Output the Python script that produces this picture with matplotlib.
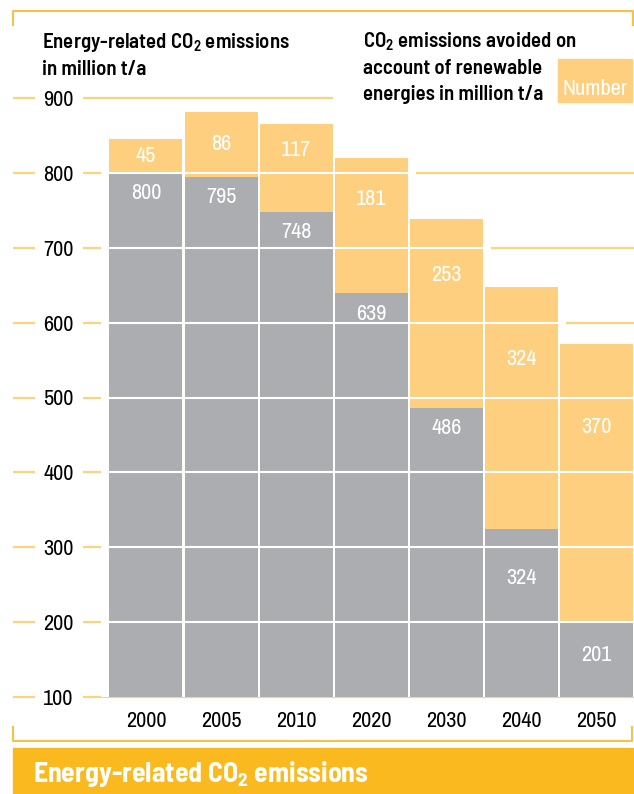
import numpy as np
import matplotlib.pyplot as plt
from matplotlib.patches import Rectangle
from matplotlib.lines import Line2D

# chart data
years = ['2000', '2005', '2010', '2020', '2030', '2040', '2050']
emissions = [800, 795, 748, 639, 486, 324, 201]      # energy-related CO2, million t/a
avoided = [45, 86, 117, 181, 253, 324, 370]          # avoided by renewables, million t/a
levels = [100, 200, 300, 400, 500, 600, 700, 800, 900]

grey = '#abadb1'
light_orange = '#fdcf7e'
grid_orange = '#fcd47f'
frame_orange = '#f8c244'
banner_orange = '#f9b91f'

num_font = ['Archivo Narrow', 'PT Sans Narrow', 'Liberation Sans', 'DejaVu Sans']
head_font = ['Barlow Semi Condensed', 'Roboto Condensed', 'DejaVu Sans']
plt.rcParams['font.family'] = num_font
plt.rcParams['mathtext.fontset'] = 'custom'
plt.rcParams['mathtext.rm'] = 'Barlow Semi Condensed:semibold'
plt.rcParams['mathtext.bf'] = 'Barlow Semi Condensed:bold'

W, H = 634, 794
fig = plt.figure(figsize=(W / 100, H / 100), dpi=100)


def fx(px):
    return px / W


def fy(py):
    return 1 - py / H


ax = fig.add_axes([fx(108.4), fy(697), fx(634) - fx(108.4), fy(98) - fy(697)])
ax.set_xlim(-0.5, 6.5)
ax.set_ylim(100, 900)
for s in ax.spines.values():
    s.set_visible(False)

x = np.arange(len(years))
bottom = 100
tops = [e + a for e, a in zip(emissions, avoided)]
bw = 0.972

# orange gridlines (right part) and short left dashes
yt = ax.get_yaxis_transform()
for lv in levels:
    right_end = 0.427 if lv == levels[-1] else 1.004
    ax.plot([-0.0483, right_end], [lv, lv], transform=yt, color=grid_orange, lw=1.6,
            clip_on=False, zorder=1, solid_capstyle='butt')
    ax.plot([-0.1815, -0.1397], [lv, lv], transform=yt, color=grid_orange, lw=1.6,
            clip_on=False, zorder=1, solid_capstyle='butt')

# white halo so gridlines stop short of the bars
ax.bar(x, np.array(tops) - bottom, bottom=bottom, width=1.19, color='white', zorder=2, clip_on=False)

ax.bar(x, np.array(emissions) - bottom, bottom=bottom, width=bw, color=grey, zorder=3)
ax.bar(x, avoided, bottom=emissions, width=bw, color=light_orange, zorder=3)

# white gridlines across the bars
for i, t in enumerate(tops):
    inside = [lv for lv in levels if bottom < lv < t]
    ax.hlines(inside, i - 0.5, i + 0.5, color='white', lw=1.5, zorder=4)

# value labels
for i, (e, a) in enumerate(zip(emissions, avoided)):
    h = e - bottom
    if h > 300:
        gy = e - 27
    elif h > 150:
        gy = e - 0.29 * h
    else:
        gy = bottom + 0.55 * h
    ax.text(i, gy, str(e), ha='center', va='center', color='white', fontsize=16, zorder=5)
    t = e + a
    oy = t - a / 2 if a < 100 else t - 0.3 * a
    ax.text(i, oy, str(a), ha='center', va='center', color='white', fontsize=16, zorder=5)

ax.set_yticks(levels)
ax.set_yticklabels([str(v) for v in levels], fontsize=16)
ax.set_xticks(x)
ax.set_xticklabels(years, fontsize=16)
ax.tick_params(axis='y', length=0, pad=25)
ax.tick_params(axis='x', length=0, pad=10)

# headings
co2 = 'CO$_\\mathregular{2}$'
hd = dict(fontsize=15, fontweight='semibold', va='baseline', ha='left', family=head_font)
fig.text(fx(42), fy(48), 'Energy-related ' + co2 + ' emissions', **hd)
fig.text(fx(42), fy(75), 'in million t/a', **hd)
fig.text(fx(363), fy(47), co2 + ' emissions avoided on', **hd)
fig.text(fx(363), fy(73.5), 'account of renewable', **hd)
fig.text(fx(363), fy(100), 'energies in million t/a', **hd)

# legend swatch
fig.patches.append(Rectangle((fx(558), fy(102)), fx(632) - fx(558), fy(59) - fy(102),
                             transform=fig.transFigure, color=light_orange, zorder=0))
fig.text(fx(595), fy(89), 'Number', color='white', fontsize=16, ha='center', va='center')

# frame brackets
fl = dict(color=frame_orange, lw=1.5, transform=fig.transFigure)
fig.add_artist(Line2D([fx(13), fx(13), fx(633), fx(633)], [fy(25), fy(11), fy(11), fy(25)], **fl))
fig.add_artist(Line2D([fx(13), fx(13), fx(632), fx(632)], [fy(727), fy(741), fy(741), fy(727)], **fl))

# title banner
fig.patches.append(Rectangle((fx(13), 0), fx(634) - fx(13), fy(748), transform=fig.transFigure,
                             color=banner_orange, zorder=0))
fig.text(fx(33), fy(782), 'Energy-related CO$_\\mathbf{2}$ emissions', color='white', fontsize=20,
         fontweight='bold', va='baseline', ha='left', family=head_font)

fig.savefig('out.png', dpi=100)
